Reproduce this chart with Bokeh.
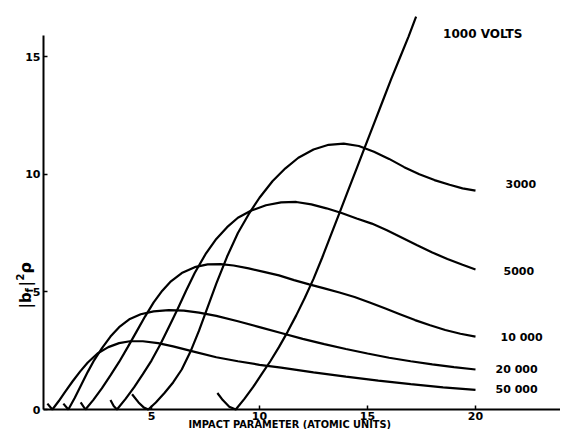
import math
from bokeh.plotting import figure
from bokeh.models import FixedTicker, Range1d, LinearAxis
from bokeh.core.properties import value
from bokeh.embed import file_html
from bokeh.resources import INLINE

# ---------------- data ----------------
series_names = ["1000  VOLTS", "3000", "5000", "10 000", "20 000", "50 000"]

x_1000 = [8.05, 8.3, 8.6, 8.9, 9.3, 9.7, 10.1, 10.5, 10.9, 11.3, 11.7, 12.1, 12.5, 12.9, 13.3, 13.7,
          14.1, 14.5, 14.9, 15.3, 15.7, 16.1, 16.5, 16.9, 17.25]
y_1000 = [0.7, 0.4, 0.12, 0.0, 0.45, 0.95, 1.5, 2.05, 2.65, 3.3, 4.0, 4.75, 5.55, 6.45, 7.4, 8.35,
          9.3, 10.25, 11.2, 12.15, 13.1, 14.05, 14.95, 15.85, 16.7]

x_3000 = [4.1, 4.4, 4.65, 4.85, 5.2, 5.6, 6.0, 6.4, 6.8, 7.2, 7.6, 8.0, 8.5, 9.0, 9.5, 10.0, 10.6,
          11.2, 11.8, 12.5, 13.2, 13.9, 14.6, 15.3, 16.0, 16.7, 17.4, 18.1, 18.8, 19.4, 20.0]
y_3000 = [0.65, 0.3, 0.08, 0.0, 0.3, 0.7, 1.15, 1.7, 2.45, 3.35, 4.35, 5.35, 6.5, 7.5, 8.3, 9.0, 9.7,
          10.25, 10.7, 11.05, 11.25, 11.3, 11.2, 10.95, 10.65, 10.3, 10.0, 9.75, 9.55, 9.4, 9.3]

x_5000 = [3.1, 3.25, 3.4, 3.8, 4.2, 4.6, 5.0, 5.4, 5.8, 6.2, 6.6, 7.0, 7.5, 8.0, 8.5, 9.0, 9.6,
          10.3, 11.0, 11.7, 12.4, 13.1, 13.8, 14.5, 15.2, 15.9, 16.6, 17.3, 18.0, 18.7, 19.4, 20.0]
y_5000 = [0.4, 0.15, 0.0, 0.45, 0.95, 1.5, 2.08, 2.75, 3.5, 4.25, 5.05, 5.8, 6.6, 7.25, 7.75, 8.15, 8.45,
          8.68, 8.8, 8.82, 8.72, 8.55, 8.35, 8.12, 7.9, 7.62, 7.3, 6.98, 6.67, 6.4, 6.15, 5.95]

x_10000 = [1.72, 1.94, 2.3, 2.7, 3.1, 3.5, 3.9, 4.3, 4.7, 5.1, 5.5, 5.9, 6.4, 7.0, 7.6, 8.2, 8.8,
           9.5, 10.2, 10.9, 11.6, 12.3, 13.0, 13.7, 14.4, 15.1, 15.8, 16.5, 17.2, 17.9, 18.6, 19.3, 20.0]
y_10000 = [0.3, 0.0, 0.4, 0.9, 1.45, 2.02, 2.65, 3.3, 3.95, 4.55, 5.05, 5.45, 5.8, 6.05, 6.17, 6.18, 6.12,
           6.0, 5.85, 5.7, 5.5, 5.32, 5.15, 4.97, 4.78, 4.55, 4.3, 4.05, 3.8, 3.58, 3.38, 3.22, 3.1]

x_20000 = [0.92, 1.15, 1.45, 1.75, 2.05, 2.35, 2.7, 3.1, 3.5, 4.0, 4.5, 5.1, 5.8, 6.5, 7.2, 8.0, 9.0,
           10.0, 11.0, 12.0, 13.0, 14.0, 15.0, 16.0, 17.0, 18.0, 19.0, 20.0]
y_20000 = [0.25, 0.0, 0.5, 1.05, 1.6, 2.1, 2.6, 3.1, 3.5, 3.85, 4.05, 4.17, 4.22, 4.2, 4.12, 3.98, 3.75,
           3.5, 3.25, 3.0, 2.78, 2.57, 2.38, 2.2, 2.05, 1.92, 1.8, 1.7]

x_50000 = [0.18, 0.41, 0.7, 1.0, 1.35, 1.7, 2.05, 2.5, 3.0, 3.5, 4.0, 4.6, 5.3, 6.0, 7.0, 8.0, 9.0,
           10.0, 11.0, 12.5, 14.0, 15.5, 17.0, 18.5, 20.0]
y_50000 = [0.25, 0.0, 0.35, 0.75, 1.2, 1.62, 2.0, 2.38, 2.65, 2.82, 2.9, 2.9, 2.82, 2.68, 2.45, 2.22, 2.05,
           1.9, 1.78, 1.58, 1.4, 1.23, 1.08, 0.94, 0.83]

x_ticks = [5, 10, 15, 20]
y_ticks = [0, 5, 10, 15]
x_title = "IMPACT PARAMETER (ATOMIC UNITS)"
y_title_parts = ["|b", "f", "|", "2", "\u03c1"]

curves = [(x_1000, y_1000), (x_3000, y_3000), (x_5000, y_5000),
          (x_10000, y_10000), (x_20000, y_20000), (x_50000, y_50000)]

# ---------------- figure ----------------
FONT = "DejaVu Sans"
W, H = 560, 429
X0, Y0 = 43, 409          # pixel position of the data origin
SX, SY = 21.6, 23.53      # pixels per unit
p = figure(width=W, height=H, output_backend="svg", toolbar_location=None,
           x_range=Range1d(-X0 / SX, (W - X0) / SX),
           y_range=Range1d(-(H - Y0) / SY, Y0 / SY),
           x_axis_type=None, y_axis_type=None)
p.min_border = 0
p.outline_line_color = None
p.grid.visible = False

xax = LinearAxis(fixed_location=0, ticker=FixedTicker(ticks=x_ticks), bounds=(0, (W - X0) / SX))
yax = LinearAxis(fixed_location=0, ticker=FixedTicker(ticks=y_ticks), bounds=(0, 15.9))
for ax in (xax, yax):
    ax.axis_line_width = 2
    ax.axis_line_color = "black"
    ax.major_tick_in = 4
    ax.major_tick_out = 0
    ax.major_tick_line_width = 1.5
    ax.minor_tick_line_color = None
    ax.major_label_text_font = FONT
    ax.major_label_text_font_style = "bold"
    ax.major_label_text_font_size = "11px"
    ax.major_label_text_color = "black"
xax.major_label_standoff = 2
yax.major_label_standoff = 3
p.add_layout(xax, "below")
p.add_layout(yax, "left")

for xs, ys in curves:
    p.line(xs, ys, line_color="black", line_width=2.2)

# curve labels next to the curve ends (offsets in screen pixels)
label_offsets = [(27, 17), (30, -7), (28, 2), (25, 1), (20, 0), (20, 0)]
label_sizes = ["12px", "11px", "11px", "11px", "11px", "11px"]
for name, (xs, ys), (dx, dy), fs in zip(series_names, curves, label_offsets, label_sizes):
    p.text(x=[xs[-1]], y=[ys[-1]], text=[name], x_offset=dx, y_offset=dy,
           text_font=value(FONT), text_font_style="bold", text_font_size=fs,
           text_baseline="middle", text_align="left", text_color="black")

# x axis title
p.text(x=[11.4], y=[-15 / SY], text=[x_title], text_font=value(FONT),
       text_font_style="bold", text_font_size="9.8px", text_align="center",
       text_baseline="middle", text_color="black")

# y axis title |b_f|^2 rho, rotated, built from pieces
ty_x = -18 / SX
ty_y = (Y0 - 308) / SY
pieces = [  # text, size, dx (screen), dy (screen, up negative)
    (y_title_parts[0], "15px", 0, 0),
    (y_title_parts[1], "10px", 4, -16),
    (y_title_parts[2], "15px", 0, -22),
    (y_title_parts[3], "10px", -6, -28),
    (y_title_parts[4], "16px", 0, -35),
]
for t, fs, dx, dy in pieces:
    p.text(x=[ty_x], y=[ty_y], text=[t], angle=math.pi / 2, x_offset=dx, y_offset=dy,
           text_font=value(FONT), text_font_style="bold", text_font_size=fs,
           text_align="left", text_baseline="middle", text_color="black")

open("out.html", "w").write(file_html(p, INLINE))
